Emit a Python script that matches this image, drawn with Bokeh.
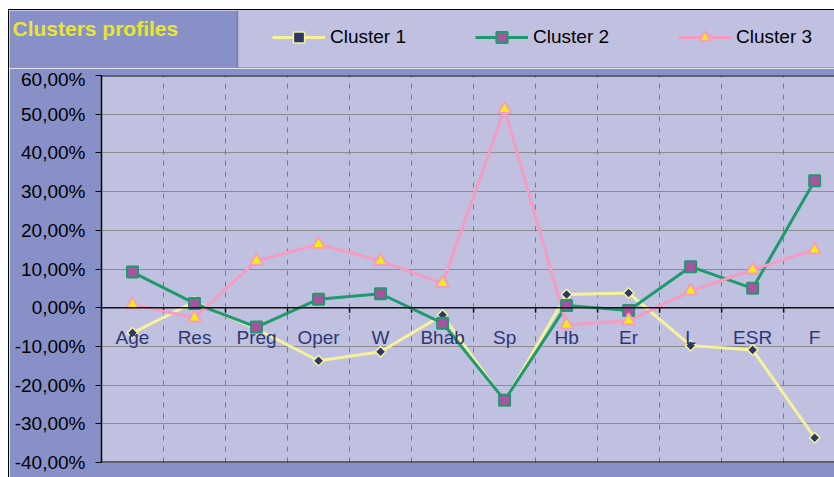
import math
from bokeh.plotting import figure
from bokeh.layouts import column, row
from bokeh.models import (Range1d, FixedTicker, Span, Legend, LegendItem, Label,
                          Grid, BoxAnnotation, Spacer)
from bokeh.core.properties import value
from bokeh.embed import file_html
from bokeh.resources import INLINE

# ---- data (values in percent) ----
categories = ["Age", "Res", "Preg", "Oper", "W", "Bhab", "Sp", "Hb", "Er", "L", "ESR", "F"]
cluster1 = [-6.5, 1.5, -5.5, -13.7, -11.4, -1.9, -24.2, 3.4, 3.8, -9.8, -10.9, -33.6]
cluster2 = [9.2, 1.1, -5.0, 2.2, 3.6, -4.0, -23.9, 0.6, -0.7, 10.6, 5.0, 32.8]
cluster3 = [0.8, -2.6, 12.1, 16.4, 12.1, 6.3, 51.3, -4.4, -3.4, 4.3, 9.8, 15.0]
y_ticks = [-40, -30, -20, -10, 0, 10, 20, 30, 40, 50, 60]
y_tick_labels = ["-40,00%", "-30,00%", "-20,00%", "-10,00%", "0,00%", "10,00%",
                 "20,00%", "30,00%", "40,00%", "50,00%", "60,00%"]
series_names = ["Cluster 1", "Cluster 2", "Cluster 3"]
chart_title = "Clusters profiles"

FONT = "Liberation Sans"
OUTER = "#8890C8"
INNER = "#C0C0E0"
C1_LINE, C1_FILL = "#F6F29C", "#2C3768"
C2_LINE, C2_FILL = "#1F9A6E", "#A3559F"
C3_LINE, C3_FILL = "#F49CC2", "#F0EE10"

styles = [
    dict(line_color=C1_LINE, marker="square", angle=math.pi / 4, size=7.5,
         fill_color=C1_FILL, m_line=C1_LINE, m_width=1.5),
    dict(line_color=C2_LINE, marker="square", angle=0.0, size=11,
         fill_color=C2_FILL, m_line=C2_LINE, m_width=2),
    dict(line_color=C3_LINE, marker="triangle", angle=0.0, size=13,
         fill_color=C3_FILL, m_line=C3_LINE, m_width=2),
]

xs = list(range(len(categories)))

# ================= header (title + legend) =================
HW, HH = 825, 58
header = figure(width=HW, height=HH, output_backend="svg", toolbar_location=None,
                title=None, x_range=Range1d(0, HW), y_range=Range1d(0, HH),
                x_axis_location=None, y_axis_location=None, min_border=0,
                background_fill_color=OUTER, border_fill_color=OUTER,
                outline_line_color=None)
header.grid.visible = False
header.add_layout(BoxAnnotation(left=228, right=HW + 20, bottom=0.5, top=HH + 20,
                                fill_color=INNER, fill_alpha=1,
                                line_color="#222222", line_width=1.5))
legend_items = []
nan = float("nan")
for name, st in zip(series_names, styles):
    # legend proxies (one NaN point so the legend swatch is drawn; nothing is plotted)
    lr = header.line([nan], [nan], line_color=st["line_color"], line_width=3)
    sr = header.scatter([nan], [nan], marker=st["marker"], angle=st["angle"],
                        size=st["size"], fill_color=st["fill_color"],
                        line_color=st["m_line"], line_width=st["m_width"])
    legend_items.append(LegendItem(label=name, renderers=[lr, sr]))
legend = Legend(items=legend_items, orientation="horizontal", location=(263, 17),
                margin=0, padding=0, spacing=69, glyph_width=53, glyph_height=28,
                label_standoff=5, label_text_font=FONT, label_text_font_size="19px",
                label_text_color="black", label_height=28, background_fill_alpha=0,
                border_line_color=None)
header.add_layout(legend)
header.add_layout(Label(x=3, y=40, text=chart_title, text_font=FONT,
                        text_font_style="bold", text_font_size="21px",
                        text_color="#E8E632", text_baseline="alphabetic"))

# ================= main chart =================
p = figure(width=825, height=409, output_backend="svg", toolbar_location=None,
           title=None, x_range=Range1d(-0.5, 11.32), y_range=Range1d(-40, 60),
           x_axis_location=None,
           min_border_left=92, min_border_right=0, min_border_top=7, min_border_bottom=15,
           background_fill_color=INNER, border_fill_color=OUTER,
           outline_line_color=None)

p.xgrid.visible = False
p.ygrid.ticker = FixedTicker(ticks=y_ticks)
p.ygrid.grid_line_color = "#8C8C8C"
p.ygrid.grid_line_width = 1
boundaries = [k + 0.5 for k in range(len(categories))]
p.add_layout(Grid(dimension=0, ticker=FixedTicker(ticks=boundaries),
                  grid_line_color="#7A7A7A", grid_line_dash="5 6", grid_line_width=1))

# plot-area top and bottom borders (the left one is the y axis line)
p.add_layout(Span(location=y_ticks[-1], dimension="width", line_color="black", line_width=2))
p.add_layout(Span(location=y_ticks[0], dimension="width", line_color="black", line_width=2))

ya = p.yaxis[0]
ya.ticker = FixedTicker(ticks=y_ticks)
ya.major_label_overrides = {t: s for t, s in zip(y_ticks, y_tick_labels)}
ya.axis_line_color = "black"
ya.axis_line_width = 1.5
ya.major_tick_out = 6
ya.major_tick_in = 0
ya.minor_tick_line_color = None
ya.major_label_standoff = 10
ya.major_label_text_font = FONT
ya.major_label_text_font_size = "19px"
ya.major_label_text_color = "black"

# zero line with small ticks at category boundaries
p.add_layout(Span(location=0, dimension="width", line_color="#111111", line_width=1.5))
p.segment(x0=boundaries, y0=[0] * len(boundaries), x1=boundaries,
          y1=[-1.3] * len(boundaries), line_color="#111111", line_width=1.5)

series = [cluster1, cluster2, cluster3]
for vals, st in zip(series, styles):
    p.line(xs, vals, line_color=st["line_color"], line_width=3)
for vals, st in zip(series, styles):
    p.scatter(xs, vals, marker=st["marker"], angle=st["angle"], size=st["size"],
              fill_color=st["fill_color"], line_color=st["m_line"],
              line_width=st["m_width"])

# category labels next to the zero line (drawn over the series, as in Excel)
p.text(x=xs, y=[0] * len(xs), text=categories, text_align="center",
       text_baseline="alphabetic", y_offset=30, text_font=value(FONT),
       text_font_size="19px", text_color="#2E3872")

black = {"background-color": "black"}
layout = column(
    Spacer(width=834, height=9),
    row(
        Spacer(width=8, height=468),
        Spacer(width=1, height=468, styles=black),
        column(Spacer(width=825, height=1, styles=black),
               row(header, spacing=0),
               row(p, spacing=0),
               spacing=0),
        spacing=0,
    ),
    spacing=0,
)

open("out.html", "w").write(file_html(layout, INLINE))
